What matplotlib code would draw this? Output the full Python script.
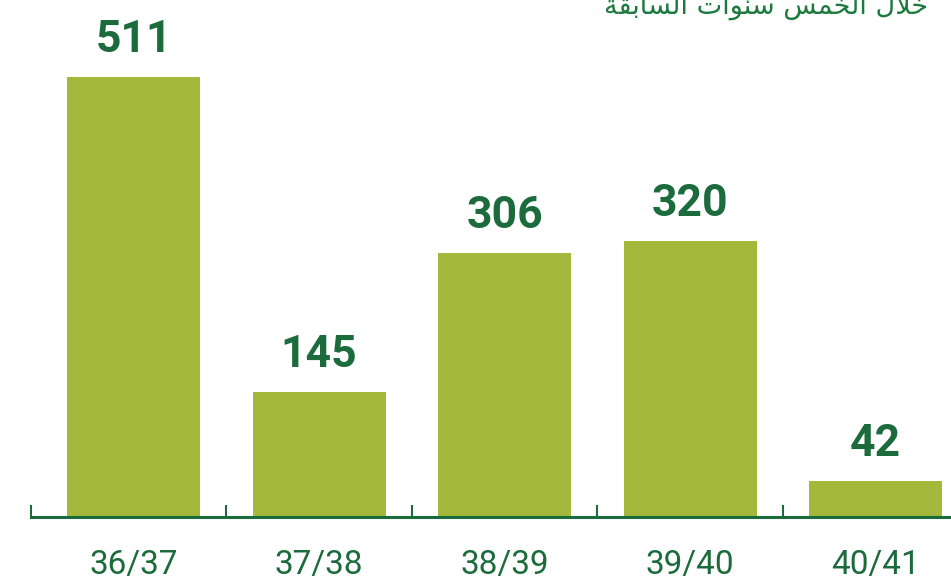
import matplotlib
matplotlib.use("Agg")
import matplotlib.pyplot as plt
from matplotlib.ticker import FixedLocator

# Data
seasons = ["36/37", "37/38", "38/39", "39/40", "40/41"]
values = [511, 145, 306, 320, 42]

# "خلال الخمس سنوات السابقة" - matplotlib does no arabic shaping,
# so the glyphs are given as presentation forms in visual (LTR) order
title_ar = ("\ufe94\ufed8\ufe91\ufe8e\ufeb4\ufedf\ufe8d "
            "\ufe95\ufe8d\ufeee\ufee8\ufeb3 "
            "\ufeb2\ufee4\ufea8\ufedf\ufe8d "
            "\ufedd\ufefc\ufea7")

bar_color = "#a4b83c"
green = "#1b6b3c"

fig = plt.figure(figsize=(9.51, 5.79), dpi=100)
ax = fig.add_axes([31 / 951, 1 - 517 / 579, 920 / 951, 517 / 579])

x = list(range(len(seasons)))
bars = ax.bar(x, values, width=0.717, color=bar_color)

for xi, v in zip(x, values):
    ax.annotate(str(v), (xi, v), xytext=(0, 18), textcoords="offset points",
                ha="center", va="baseline", fontsize=32, fontweight="bold",
                color=green, family="Roboto")

ax.set_xlim(-0.553, 4.407)
ax.set_ylim(0, 600)

ax.set_xticks(x)
ax.set_xticklabels(seasons, fontsize=24, color=green, family="Roboto")
ax.tick_params(axis="x", which="major", length=0, pad=23)
ax.xaxis.set_minor_locator(FixedLocator([-0.553, 0.5, 1.5, 2.5, 3.5]))
ax.tick_params(axis="x", which="minor", direction="in", length=9, width=1.5, color=green)
ax.set_yticks([])

for s in ["top", "left", "right"]:
    ax.spines[s].set_visible(False)
ax.spines["bottom"].set_color(green)
ax.spines["bottom"].set_linewidth(2.2)

fig.text(928 / 951, 1 - 14 / 579, title_ar, ha="right", va="baseline",
         fontsize=19.5, color="#1d7a3e", family="DejaVu Sans")

fig.savefig("out.png", dpi=100)
